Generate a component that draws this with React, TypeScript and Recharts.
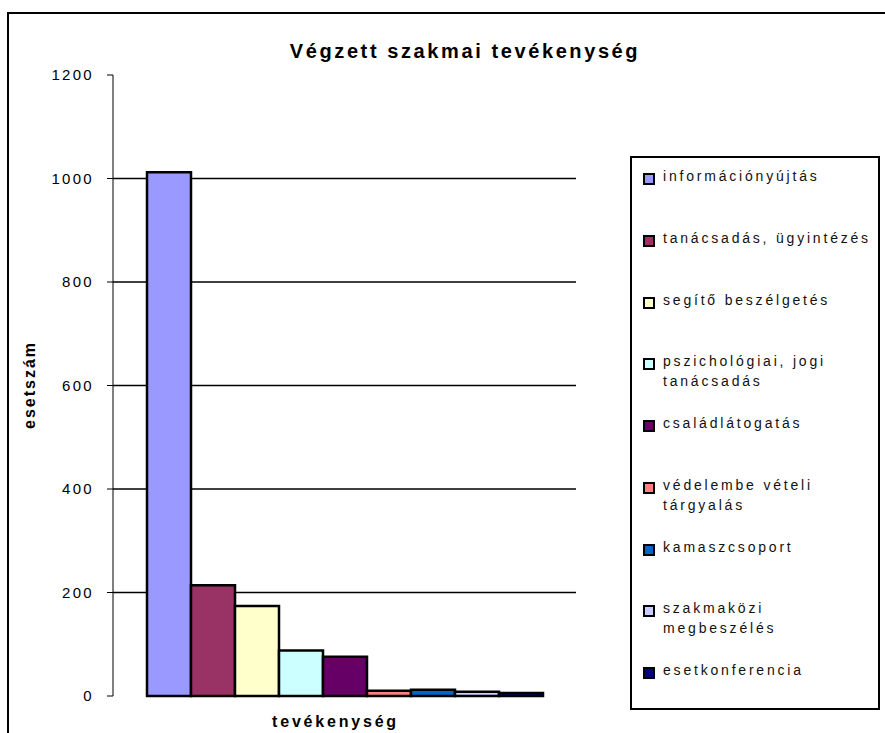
import React from "react";
import { BarChart, Bar, XAxis, YAxis, CartesianGrid, Label } from "recharts";

const title = "Végzett szakmai tevékenység";
const xTitle = "tevékenység";
const yTitle = "esetszám";

const seriesNames = [
  "információnyújtás",
  "tanácsadás, ügyintézés",
  "segítő beszélgetés",
  "pszichológiai, jogi\ntanácsadás",
  "családlátogatás",
  "védelembe vételi\ntárgyalás",
  "kamaszcsoport",
  "szakmaközi\nmegbeszélés",
  "esetkonferencia",
];
const seriesValues = [1012, 214, 174, 88, 76, 10, 12, 8, 6];
const seriesColors = [
  "#9999FF",
  "#993366",
  "#FFFFCC",
  "#CCFFFF",
  "#660066",
  "#FF8080",
  "#0066CC",
  "#CCCCFF",
  "#000080",
];
const yTicks = [0, 200, 400, 600, 800, 1000, 1200];
const gridValues = [200, 400, 600, 800, 1000];

const row: Record<string, string | number> = { name: xTitle };
seriesValues.forEach((v, i) => {
  row[`s${i}`] = v;
});
const data = [row];

const FONT = "Arial, 'Liberation Sans', sans-serif";

export default function App() {
  return (
    <div
      style={{
        position: "absolute",
        left: 0,
        top: 0,
        width: 885,
        height: 733,
        overflow: "hidden",
        background: "#fff",
        fontFamily: FONT,
      }}
    >
      {/* outer chart frame, cropped on the right and bottom */}
      <div
        style={{
          position: "absolute",
          left: 7,
          top: 12,
          width: 920,
          height: 800,
          border: "2px solid #000",
        }}
      />
      <div
        style={{
          position: "absolute",
          left: 0,
          top: 40,
          width: 930,
          textAlign: "center",
          fontSize: 20,
          fontWeight: "bold",
          letterSpacing: 2.6,
          color: "#000",
        }}
      >
        {title}
      </div>

      <div style={{ position: "absolute", left: 0, top: 0 }}>
        <BarChart
          width={885}
          height={733}
          data={data}
          margin={{ top: 75, right: 309, bottom: 7, left: 0 }}
          barCategoryGap={34}
          barGap={0}
        >
          <CartesianGrid
            vertical={false}
            horizontalValues={gridValues}
            stroke="#000"
            strokeWidth={1.4}
          />
          <XAxis
            dataKey="name"
            axisLine={false}
            tickLine={false}
            tick={false}
            height={30}
          >
            <Label
              content={(props: any) => {
                const vb = props.viewBox || {};
                return (
                  <text
                    x={vb.x + vb.width / 2 - 9}
                    y={727}
                    textAnchor="middle"
                    fontFamily={FONT}
                    fontSize={16}
                    fontWeight="bold"
                    letterSpacing={2.8}
                    fill="#000"
                  >
                    {xTitle}
                  </text>
                );
              }}
            />
          </XAxis>
          <YAxis
            width={113}
            domain={[0, 1200]}
            ticks={yTicks}
            interval={0}
            axisLine={{ stroke: "#000", strokeWidth: 1 }}
            tickLine={{ stroke: "#000", strokeWidth: 1 }}
            tickSize={6}
            tickMargin={13}
            tick={{
              fill: "#000",
              fontSize: 15,
              fontFamily: FONT,
              letterSpacing: 2.3,
            }}
          >
            <Label
              content={() => (
                <text
                  x={35}
                  y={385}
                  transform="rotate(-90 35 385)"
                  textAnchor="middle"
                  fontFamily={FONT}
                  fontSize={16}
                  fontWeight="bold"
                  letterSpacing={2}
                  fill="#000"
                >
                  {yTitle}
                </text>
              )}
            />
          </YAxis>
          {seriesNames.map((n, i) => (
            <Bar
              key={n}
              dataKey={`s${i}`}
              name={n}
              fill={seriesColors[i]}
              stroke="#000"
              strokeWidth={2.5}
              isAnimationActive={false}
            />
          ))}
        </BarChart>
      </div>

      {/* legend */}
      <div
        style={{
          position: "absolute",
          left: 630,
          top: 156,
          width: 250,
          height: 554,
          border: "2px solid #000",
          boxSizing: "border-box",
        }}
      >
        {seriesNames.map((n, i) => (
          <div
            key={n}
            style={{
              position: "absolute",
              left: 11,
              top: 11 + i * 61.75,
              display: "flex",
              alignItems: "flex-start",
            }}
          >
            <span
              style={{
                display: "inline-block",
                width: 8,
                height: 8,
                marginTop: 4,
                marginRight: 8,
                background: seriesColors[i],
                border: "2px solid #000",
              }}
            />
            <span
              style={{
                whiteSpace: "pre",
                fontSize: 14,
                lineHeight: "20px",
                letterSpacing: 2.8,
                color: "#111",
                marginTop: -3,
              }}
            >
              {n}
            </span>
          </div>
        ))}
      </div>
    </div>
  );
}
